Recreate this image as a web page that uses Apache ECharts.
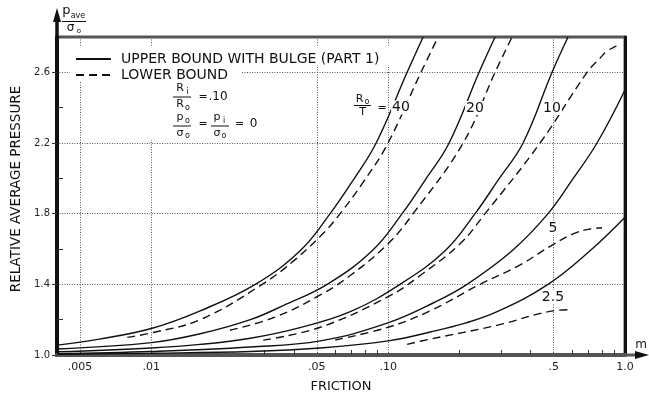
<!DOCTYPE html>
<html><head><meta charset="utf-8">
<script src="https://cdn.jsdelivr.net/npm/echarts@6/dist/echarts.min.js"></script>
<style>html,body{margin:0;padding:0;background:#fff}#c{width:649px;height:400px}</style>
</head><body><div id="c"></div>
<script>
// ---- axis ticks / labels ----
const xMajorTicks = [0.005, 0.01, 0.05, 0.1, 0.5, 1.0];
const xMajorLabels = ['.005', '.01', '.05', '.10', '.5', '1.0'];
const xMinorTicks = [0.03, 0.04, 0.06, 0.07, 0.08, 0.09, 0.2, 0.3, 0.4, 0.6, 0.7, 0.8, 0.9];
const yMajorTicks = [1.0, 1.4, 1.8, 2.2, 2.6];
const yMajorLabels = ['1.0', '1.4', '1.8', '2.2', '2.6'];
const yMinorTicks = [1.2, 1.6, 2.0, 2.4];

// ---- series: [friction m, relative average pressure] ----
const upper40 = [[0.00401,1.056],[0.00603,1.09],[0.01,1.15],[0.0161,1.25],[0.0275,1.40],[0.0425,1.59],[0.0569,1.80],[0.0712,1.99],[0.089,2.20],[0.1203,2.60],[0.1405,2.80]];
const upper20 = [[0.00401,1.034],[0.01,1.07],[0.0161,1.12],[0.0262,1.20],[0.0361,1.28],[0.0553,1.40],[0.0856,1.59],[0.1146,1.80],[0.1433,1.99],[0.1809,2.20],[0.2421,2.60],[0.2828,2.80]];
const upper10 = [[0.00401,1.018],[0.01,1.04],[0.0161,1.06],[0.0262,1.095],[0.0425,1.155],[0.0692,1.245],[0.1123,1.40],[0.174,1.59],[0.2328,1.80],[0.2912,1.99],[0.3712,2.20],[0.4921,2.60],[0.5747,2.80]];
const upper5 = [[0.00401,1.008],[0.01,1.02],[0.0262,1.045],[0.0517,1.08],[0.099,1.18],[0.158,1.30],[0.2154,1.40],[0.3337,1.59],[0.4733,1.80],[0.5975,1.99],[0.7619,2.20],[1.0,2.50]];
const upper2_5 = [[0.00401,1.004],[0.01,1.01],[0.0262,1.02],[0.0517,1.04],[0.1,1.08],[0.1504,1.13],[0.2113,1.18],[0.2884,1.245],[0.4733,1.40],[0.7118,1.59],[1.0,1.78]];

const lower40 = [[0.00792,1.10],[0.01,1.125],[0.0161,1.20],[0.0294,1.40],[0.0405,1.54],[0.0542,1.70],[0.0627,1.80],[0.0777,1.97],[0.099,2.19],[0.1365,2.59],[0.1626,2.80]];
const lower20 = [[0.0215,1.14],[0.0334,1.215],[0.0517,1.34],[0.0692,1.45],[0.1,1.63],[0.1275,1.80],[0.2073,2.20],[0.2828,2.60],[0.3337,2.80]];
const lower10 = [[0.0297,1.084],[0.0517,1.157],[0.1,1.33],[0.1365,1.45],[0.2013,1.63],[0.2566,1.80],[0.4379,2.20],[0.6914,2.60],[0.7844,2.68],[0.8396,2.72],[0.9075,2.745],[0.9525,2.755]];
const lower5 = [[0.0598,1.085],[0.1,1.157],[0.1504,1.25],[0.2444,1.40],[0.3606,1.51],[0.4968,1.625],[0.615,1.69],[0.7118,1.713],[0.800,1.72]];
const lower2_5 = [[0.1203,1.06],[0.1504,1.09],[0.2884,1.168],[0.4968,1.25],[0.5975,1.257]];

const curveLabels = ['40', '20', '10', '5', '2.5'];
const UPPER = 'UPPER BOUND WITH BULGE (PART 1)';
const LOWER = 'LOWER BOUND';

const FONT = "'DejaVu Sans', sans-serif";
const INK = '#111';

function fmtByTable(ticks, labels) {
  return function (v) {
    for (let i = 0; i < ticks.length; i++) {
      if (Math.abs(ticks[i] - v) <= Math.abs(ticks[i]) * 1e-6) return labels[i];
    }
    return '';
  };
}

const g = [];
function T(x, y, text, size, extra) {
  g.push({ type: 'text', x: x, y: y, z: 6, silent: true,
    style: Object.assign({ text: text, fontSize: size, fontFamily: FONT, fill: INK, align: 'center', verticalAlign: 'middle' }, extra || {}) });
}
function L(x1, y1, x2, y2, w, color) {
  g.push({ type: 'line', z: 6, silent: true, shape: { x1: x1, y1: y1, x2: x2, y2: y2 }, style: { stroke: color || INK, lineWidth: w || 1 } });
}
function R(x, y, w, h) {
  g.push({ type: 'rect', z: 3, silent: true, shape: { x: x, y: y, width: w, height: h }, style: { fill: '#fff' } });
}
function P(points) {
  g.push({ type: 'polygon', z: 6, silent: true, shape: { points: points }, style: { fill: INK } });
}

// white areas behind legend and parameter notes
R(70, 47, 320, 18);
R(70, 65, 172, 17);
R(145, 78, 117, 62);

// axis arrows
L(57, 37, 57, 16, 3.5);
P([[57, 8], [53, 22], [61, 22]]);
L(625, 355, 638, 355, 3, '#555');
P([[649, 355], [635, 351], [635, 359]]);

// y quantity label p_ave / sigma_o
T(66.5, 11, 'p', 13);
T(78, 16, 'ave', 8);
L(62, 21.5, 86, 21.5, 1);
T(70.5, 28, 'σ', 12);
T(79, 31, 'o', 7);
T(641, 345, 'm', 12);

// R_i / R_o = .10
T(180, 88, 'R', 11); T(187.5, 91.5, 'i', 8);
L(173, 97, 191, 97, 1);
T(180, 104, 'R', 11); T(187.5, 108, 'o', 8);
T(203, 97, '=', 11);
T(218, 97, '.10', 12);

// p_o / sigma_o = p_i / sigma_o = 0
T(180, 117.5, 'p', 11); T(187.5, 121, 'o', 8);
L(173, 126, 191, 126, 1);
T(180, 133, 'σ', 11); T(187.5, 136, 'o', 8);
T(203, 124, '=', 11);
T(217, 117, 'p', 11); T(224, 120.5, 'i', 8);
L(211, 126, 229, 126, 1);
T(217, 133, 'σ', 11); T(224, 136, 'o', 8);
T(239.5, 124, '=', 11);
T(253.5, 124, '0', 12);

// R_o / T = 40 ... curve labels
T(359.5, 99, 'R', 11); T(367, 102, 'o', 8);
L(354, 105.5, 371, 105.5, 1);
T(362.5, 112.5, 'T', 11);
T(382, 108, '=', 11);
const labelPos = [[401, 107.5], [475, 108], [552, 108], [553, 228], [553, 297]];
curveLabels.forEach(function (s, i) {
  T(labelPos[i][0], labelPos[i][1], s, 14, { backgroundColor: '#fff', padding: [0, 1] });
});

const solidStyle = { color: INK, width: 1.4, type: 'solid' };
const dashStyle = { color: INK, width: 1.4, type: [8, 5] };
function mk(name, data, style) {
  return { type: 'line', name: name, data: data, smooth: 0.4, symbol: 'none',
    lineStyle: style, itemStyle: { color: INK }, silent: true, xAxisIndex: 0, yAxisIndex: 0, z: 2 };
}
const series = [upper40, upper20, upper10, upper5, upper2_5].map(d => mk(UPPER, d, solidStyle))
  .concat([lower40, lower20, lower10, lower5, lower2_5].map(d => mk(LOWER, d, dashStyle)));

const gridLine = { show: true, lineStyle: { color: '#555', width: 1, type: [1, 1.5] } };

const chart = echarts.init(document.getElementById('c'), null, { renderer: 'canvas', width: 649, height: 400 });
chart.setOption({
  animation: false,
  backgroundColor: '#fff',
  grid: { left: 57, right: 24, top: 37, bottom: 45, show: true, borderColor: '#555', borderWidth: 3, backgroundColor: 'transparent' },
  legend: {
    data: [UPPER, LOWER], orient: 'vertical', left: 70, top: 47, padding: 5,
    itemWidth: 35, itemHeight: 12, itemGap: 2, selectedMode: false,
    itemStyle: { opacity: 0 },
    textStyle: { fontFamily: FONT, fontSize: 14, color: INK, padding: [0, 0, 0, 5], lineHeight: 12 }
  },
  xAxis: [
    { type: 'log', logBase: 10, min: 0.004, max: 1, position: 'bottom',
      name: 'FRICTION', nameLocation: 'middle', nameGap: 25,
      nameTextStyle: { fontFamily: FONT, fontSize: 13, color: INK },
      axisLine: { show: true, lineStyle: { color: '#555', width: 4 } },
      axisTick: { show: false, customValues: xMajorTicks },
      axisLabel: { show: true, customValues: xMajorTicks, formatter: fmtByTable(xMajorTicks, xMajorLabels),
        fontFamily: FONT, fontSize: 11, color: '#222', margin: 7 },
      splitLine: gridLine, minorTick: { show: false }, minorSplitLine: { show: false } },
    { type: 'log', logBase: 10, min: 0.004, max: 1, position: 'bottom',
      axisLine: { show: false },
      axisTick: { show: true, inside: true, length: 5, customValues: xMinorTicks, lineStyle: { color: '#333', width: 1 } },
      axisLabel: { show: false }, splitLine: { show: false } }
  ],
  yAxis: [
    { type: 'value', min: 1.0, max: 2.8, position: 'left',
      name: 'RELATIVE AVERAGE PRESSURE', nameLocation: 'middle', nameGap: 33,
      nameTextStyle: { fontFamily: FONT, fontSize: 13.5, color: INK, padding: [0, 0, 0, 14] },
      axisLine: { show: true, lineStyle: { color: INK, width: 4 } },
      axisTick: { show: true, inside: false, length: 5, customValues: yMajorTicks, lineStyle: { color: '#333', width: 1 } },
      axisLabel: { show: true, customValues: yMajorTicks, formatter: fmtByTable(yMajorTicks, yMajorLabels),
        fontFamily: FONT, fontSize: 10, color: '#222', margin: 7 },
      splitLine: gridLine },
    { type: 'value', min: 1.0, max: 2.8, position: 'left',
      axisLine: { show: false },
      axisTick: { show: true, inside: true, length: 6, customValues: yMinorTicks, lineStyle: { color: '#333', width: 1 } },
      axisLabel: { show: false }, splitLine: { show: false } },
    { type: 'value', min: 1.0, max: 2.8, position: 'right',
      axisLine: { show: true, lineStyle: { color: INK, width: 3 } },
      axisTick: { show: false }, axisLabel: { show: false }, splitLine: { show: false } }
  ],
  graphic: g,
  series: series
});
</script>
</body></html>
